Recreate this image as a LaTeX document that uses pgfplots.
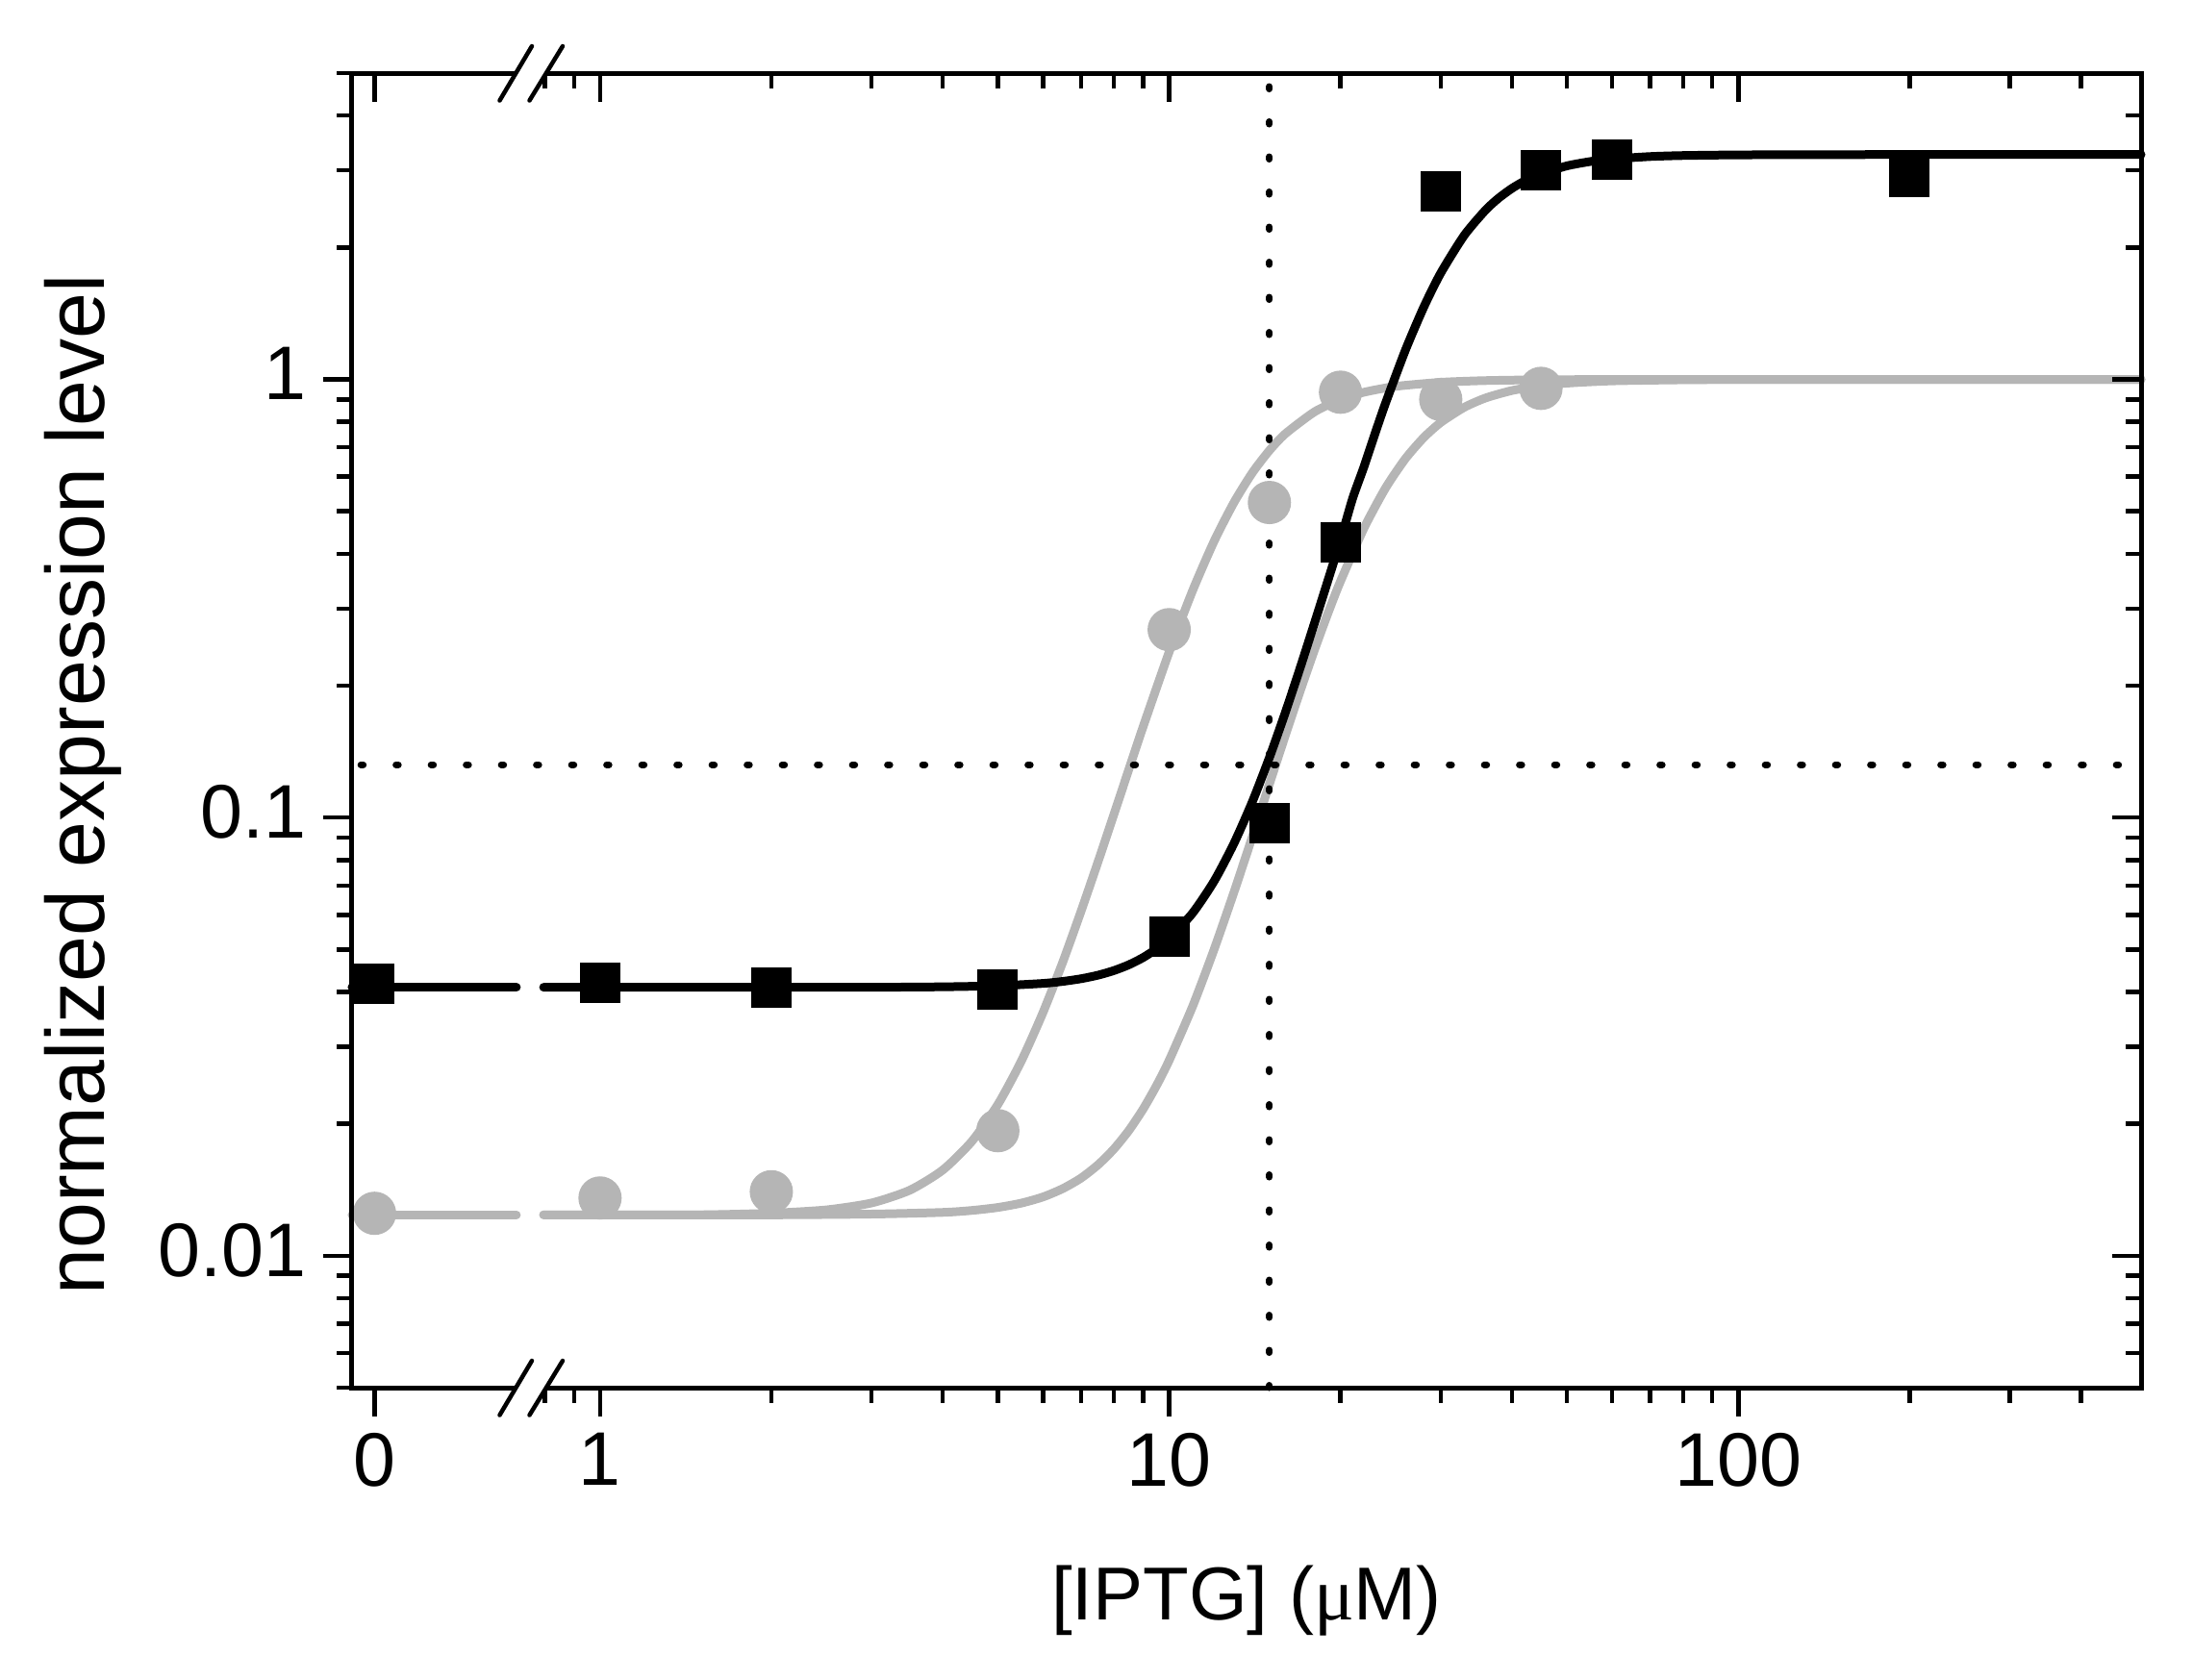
\documentclass[border=0pt]{standalone}
\usepackage{fontspec}
\setmainfont{Liberation Sans}
\newfontfamily\serifmu{Liberation Serif}
\usepackage{pgfplots}
\pgfplotsset{compat=1.18}
\definecolor{lgray}{RGB}{181,181,181}

\begin{document}
\begin{tikzpicture}
\useasboundingbox (-73.2pt,-60.6pt) rectangle (382.8pt,288.6pt);
\begin{axis}[
  anchor=south west, scale only axis,
  width=372pt, height=273.4pt,
  xmode=log, ymode=log,
  xmin=0.3667, xmax=510, ymin=0.005, ymax=5,
  xtick={0.4016,1,10,100},
  minor xtick={0.8,0.9,2,3,4,5,6,7,8,9,20,30,40,50,60,70,80,90,200,300,400},
  ytick={0.01,0.1,1},
  minor ytick={0.005,0.006,0.007,0.008,0.009,0.02,0.03,0.04,0.05,0.06,0.07,0.08,0.09,0.2,0.3,0.4,0.5,0.6,0.7,0.8,0.9,2,3,4,5},
  major tick length=6pt, minor tick length=3.2pt,
  tick style={black, line width=0.9pt},
  axis line style={line width=1pt},
  clip=false,
  tick align=outside, xtick pos=bottom, ytick pos=left,
  xticklabels={0,1,10,100}, yticklabels={0.01,0.1,1},
  tick label style={font=\fontsize{15.8}{18}\selectfont},
  yticklabel style={yshift=1.2pt},
  xlabel={[IPTG] ({\serifmu μ}M)},
  xlabel style={at={(axis description cs:0.5,-0.177)}, anchor=base, font=\fontsize{15.6}{18}\selectfont},
  ylabel={normalized expression level},
  ylabel style={at={(axis description cs:-0.1382,0.4587)}, anchor=base, font=\fontsize{17.2}{20}\selectfont},
]
% gray fitted curves
\addplot[lgray, line width=1.8pt, line cap=round] coordinates {(0.3667,0.0124) (0.713,0.0124)};
\addplot[lgray, line width=1.8pt, line cap=round, line join=round, smooth, tension=0.4] coordinates {
(0.796,0.0124) (1,0.0124) (1.5,0.0124) (2,0.01251) (2.5,0.01273) (3,0.0132) (3.5,0.01411) (4,0.01569) (4.5,0.01824) (5,0.02214) (5.5,0.02785) (6,0.03588) (6.5,0.04675) (7,0.0611) (7.5,0.0793) (8,0.1019) (8.5,0.1292) (9,0.1613) (10,0.2389) (11,0.3302) (12,0.4281) (13,0.5242) (14,0.6124) (15,0.6884) (16,0.7516) (18,0.8433) (20,0.8999) (22,0.9349) (25,0.9641) (30,0.985) (35,0.9929) (40,0.9963) (50,0.9988) (70,0.9998) (150,1.0) (510,1.0)};
\addplot[lgray, line width=1.8pt, line cap=round, line join=round, smooth, tension=0.4] coordinates {
(0.796,0.0124) (1,0.0124) (2,0.0124) (3,0.01245) (4,0.01256) (4.5,0.01269) (5,0.01289) (5.5,0.01319) (6,0.01362) (6.5,0.01423) (7,0.01504) (7.5,0.01613) (8,0.01754) (8.5,0.01934) (9,0.02162) (9.5,0.02446) (10,0.02793) (11,0.03716) (12,0.05014) (13,0.06767) (14,0.0905) (15,0.1193) (16,0.1541) (17,0.1949) (18,0.2413) (19,0.2922) (20,0.3463) (22,0.4582) (24,0.5653) (26,0.6592) (28,0.7365) (30,0.7976) (33,0.8637) (36,0.9074) (40,0.9431) (45,0.9676) (50,0.9806) (60,0.9922) (80,0.9981) (100,0.9994) (200,1.0) (510,1.0)};
% gray data
\addplot[only marks, mark=*, mark size=4.3pt, mark options={fill=lgray, draw=lgray}] coordinates {
(0.4016,0.0125) (1,0.01355) (2,0.0140) (5,0.0193) (10,0.2685) (15,0.5237) (20,0.935) (30,0.900) (45,0.954)};
% dotted guide lines
\addplot[black, line width=1.4pt, dash pattern=on 0.5pt off 6.8pt, line cap=round] coordinates {(15,0.005) (15,5)};
\addplot[black, line width=1.4pt, dash pattern=on 0.5pt off 6.8pt, line cap=round] coordinates {(0.38,0.132) (510,0.132)};
% black fitted curve
\addplot[black, line width=1.8pt, line cap=round] coordinates {(0.3667,0.041) (0.713,0.041)};
\addplot[black, line width=1.8pt, line cap=round, line join=round, smooth, tension=0.4] coordinates {
(0.796,0.041) (1,0.041) (2,0.041) (3,0.041) (4,0.0411) (5,0.04133) (6,0.04184) (6.5,0.04228) (7,0.04288) (7.5,0.04369) (8,0.04477) (8.5,0.04616) (9,0.04793) (9.5,0.05018) (10,0.05296) (11,0.0606) (12,0.0717) (13,0.0874) (14,0.1087) (15,0.1371) (16,0.1738) (17,0.2203) (18,0.2779) (19,0.3471) (20,0.4296) (21,0.5348) (22,0.633) (23,0.753) (24,0.8834) (26,1.166) (28,1.461) (30,1.749) (33,2.133) (36,2.438) (38,2.598) (40,2.728) (42,2.831) (45,2.948) (50,3.072) (55,3.143) (60,3.184) (70,3.226) (80,3.243) (100,3.254) (150,3.259) (510,3.26)};
% black data
\addplot[only marks, mark=square*, mark size=4pt, mark options={fill=black, draw=black}] coordinates {
(0.4016,0.0417) (1,0.0420) (2,0.0410) (5,0.0405) (10,0.0536) (15,0.0969) (20,0.4257) (30,2.685) (45,3.0) (60,3.166) (200,2.90)};
\end{axis}
\begin{axis}[
  anchor=south west, scale only axis,
  width=372pt, height=273.4pt,
  xmode=log, ymode=log,
  xmin=0.3667, xmax=510, ymin=0.005, ymax=5,
  xtick={0.4016,1,10,100},
  minor xtick={0.8,0.9,2,3,4,5,6,7,8,9,20,30,40,50,60,70,80,90,200,300,400},
  ytick={0.01,0.1,1},
  minor ytick={0.005,0.006,0.007,0.008,0.009,0.02,0.03,0.04,0.05,0.06,0.07,0.08,0.09,0.2,0.3,0.4,0.5,0.6,0.7,0.8,0.9,2,3,4,5},
  major tick length=6pt, minor tick length=3.2pt,
  tick style={black, line width=0.9pt},
  axis line style={line width=1pt},
  tick align=inside, xtick pos=top, ytick pos=right, xticklabels={}, yticklabels={}]
\addplot[draw=none] coordinates {(1,1)};
\end{axis}
\foreach \yy in {0,273.4} {
  \begin{scope}[yshift=\yy pt]
    \fill[white] (34.05pt,-0.8pt) rectangle (40.35pt,0.8pt);
    \draw[line width=0.9pt, line cap=round] (30.7pt,-5.7pt) -- (37.4pt,5.6pt) (36.9pt,-5.7pt) -- (43.8pt,5.6pt);
  \end{scope}
}
\end{tikzpicture}
\end{document}
